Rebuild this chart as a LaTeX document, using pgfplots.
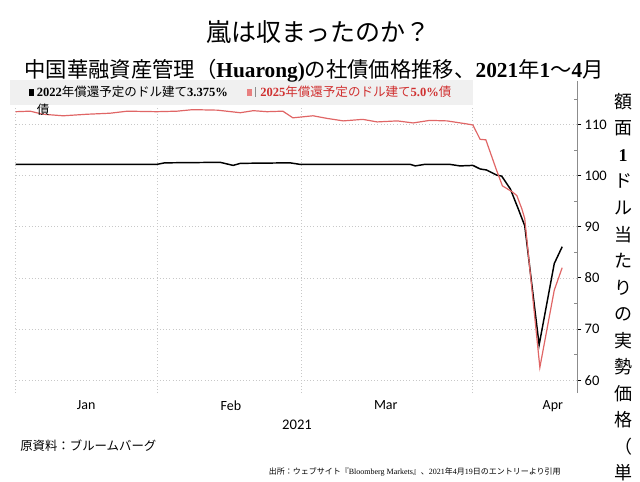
\documentclass[border=0pt]{standalone}
\usepackage{pgfplots}
\pgfplotsset{compat=1.18}
\usepackage{fontspec}
\setmainfont{Liberation Serif}
\newfontfamily\cjk{Noto Sans CJK JP}
\newfontfamily\tickfont{Carlito}
\definecolor{redline}{HTML}{E06666}
\definecolor{redtext}{HTML}{D03030}
\definecolor{redmark}{HTML}{E88080}
\definecolor{band}{HTML}{F0F0F0}
\definecolor{gridc}{HTML}{C8C8C8}
\definecolor{axisc}{HTML}{8C8C8C}

\pgfplotstableread{
d v
0 102.2
19.6 102.2
20.7 102.5
28.4 102.6
30.2 102.0
31.2 102.4
38.1 102.5
39.5 102.2
54.8 102.2
55.5 101.9
56.8 102.2
60.3 102.2
61.7 101.9
63.5 102.0
64.5 101.3
65.4 101.1
66.8 100.1
67.5 99.9
68.7 97.4
69.8 93.5
70.7 90.2
72.7 66.9
74.8 82.8
75.9 86.1
}\blackdata

\pgfplotstableread{
d v
0 112.5
2.0 112.6
3.8 112.0
6.6 111.7
9.9 112.0
13.1 112.2
15.5 112.6
19.6 112.5
22.4 112.6
24.6 112.9
28.0 112.8
31.2 112.3
33.0 112.7
34.9 112.5
37.1 112.6
38.5 111.3
41.3 111.7
43.2 111.2
45.5 110.7
48.2 111.0
50.2 110.5
53.0 110.7
55.2 110.3
57.5 110.8
59.9 110.7
62.7 110.1
63.5 109.9
64.5 107.1
65.3 107.0
66.8 101.0
67.6 98.0
69.0 96.8
69.6 96.1
70.3 93.5
70.7 91.6
72.8 62.5
74.8 77.6
75.9 82.0
}\reddata

\begin{document}
\begin{tikzpicture}
\begin{scope}[x=0.75pt,y=-0.75pt]
\path[use as bounding box] (0,0) rectangle (640,482);
\end{scope}
\begin{axis}[
  at={(11.775pt,-294.75pt)}, anchor=south west,
  scale only axis, width=421.2pt, height=234pt,
  xmin=0, xmax=78, ymin=57.5, ymax=118.5,
  axis y line*=right, axis x line*=bottom,
  x axis line style={draw=none},
  y axis line style={draw=axisc, line width=0.8pt},
  xtick={0,19.7,39.7,63.5}, xticklabels={},
  xmajorgrids, ymajorgrids,
  grid style={draw=gridc, dotted, line width=0.6pt},
  extra x ticks={9.8,29.9,51.4,74.6},
  extra x tick labels={Jan,Feb,Mar,Apr},
  extra x tick style={grid=none, major tick length=0pt},
  x tick style={draw=none},
  ytick={60,70,...,110}, minor ytick={65,75,...,115},
  tick align=outside,
  major tick length=3pt,
  minor tick length=2.25pt,
  y tick style={draw=black, line width=0.8pt},
  minor y tick style={xshift=-2.25pt, draw=axisc, line width=0.6pt},
  /pgf/number format/assume math mode=true,
  yticklabel style={font=\tickfont\fontsize{10.9}{12}\selectfont, xshift=-1pt},
  xticklabel style={font=\tickfont\fontsize{10.5}{12}\selectfont, yshift=-2pt},
  clip=false,
]
\addplot[black, line width=1.1pt] table[x=d,y=v] {\blackdata};
\addplot[redline, line width=0.9pt] table[x=d,y=v] {\reddata};
\end{axis}
\begin{scope}[x=0.75pt,y=-0.75pt]
\fill[band] (10,80) rectangle (473,105);
% titles
\node[font=\cjk\fontsize{18.75}{20}\selectfont, inner sep=0] at (318,32) {嵐は収まったのか？};
\node[font=\fontsize{16}{18}\selectfont, inner sep=0] at (314,71)
  {{\cjk 中国華融資産管理（}\textbf{Huarong)}{\cjk の社債価格推移、}\textbf{2021}{\cjk 年}\textbf{1}{\cjk 〜}\textbf{4}{\cjk 月}};
% legend
\fill[black] (29,88.5) rectangle (33.5,95.5);
\node[anchor=west, inner sep=0, font=\fontsize{9.4}{11}\selectfont] at (36.5,91.5)
  {\textbf{2022}{\cjk 年償還予定のドル建て}\textbf{3.375\%}};
\node[anchor=west, inner sep=0, font=\cjk\fontsize{9.4}{11}\selectfont] at (36.5,109.5) {債};
\fill[redmark] (247,88.5) rectangle (252,96);
\draw[axisc, line width=0.5pt] (255.5,87) -- (255.5,97);
\node[anchor=west, inner sep=0, font=\fontsize{9.4}{11}\selectfont, text=redtext] at (260,91.5)
  {\textbf{2025}{\cjk 年償還予定のドル建て}\textbf{5.0\%}{\cjk 債}};
% x label
\node[font=\tickfont\fontsize{11}{12}\selectfont, inner sep=0] at (297,425) {2021};
% source
\node[anchor=west, inner sep=0, font=\cjk\fontsize{9.3}{11}\selectfont] at (20,446) {原資料：ブルームバーグ};
\node[anchor=east, inner sep=0, font=\fontsize{6}{7}\selectfont] at (561,472)
  {{\cjk 出所：ウェブサイト『}Bloomberg Markets{\cjk 』、}2021{\cjk 年}4{\cjk 月}19{\cjk 日のエントリーより引用}};
% vertical axis title
\node[anchor=north, inner sep=0, align=center, font=\cjk\fontsize{13.5}{19.9}\selectfont] at (623,93)
  {額\\面\\\textbf{\rmfamily 1}\\ド\\ル\\当\\た\\り\\の\\実\\勢\\価\\格\\（\\単};
\end{scope}
\end{tikzpicture}
\end{document}
